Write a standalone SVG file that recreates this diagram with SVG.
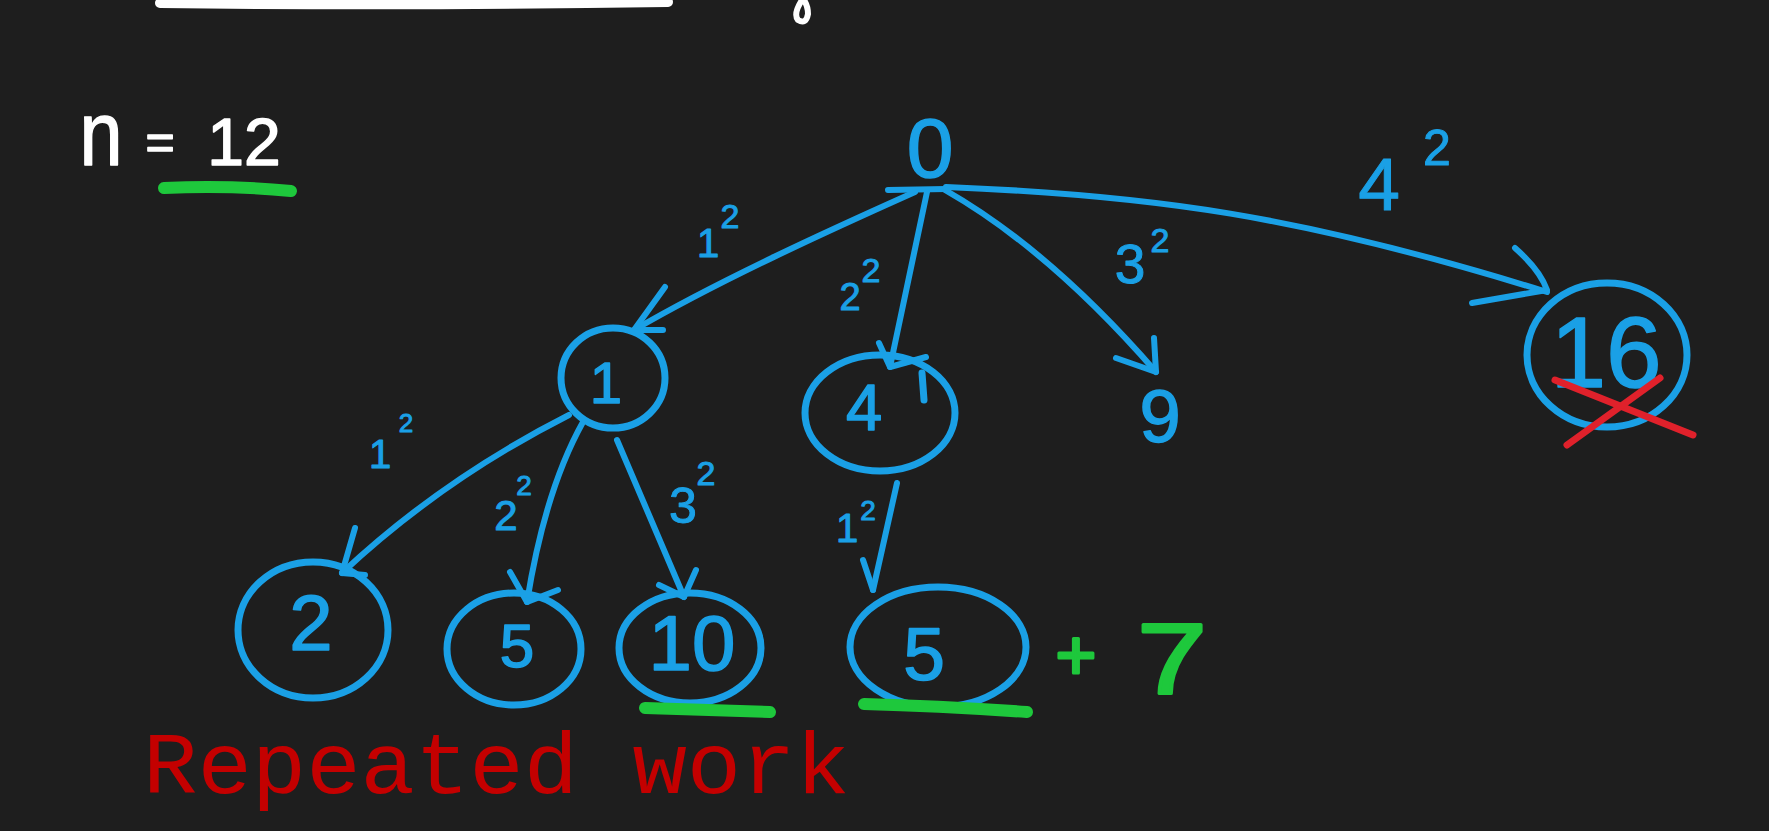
<svg xmlns="http://www.w3.org/2000/svg" width="1769" height="831" viewBox="0 0 1769 831">
<style>
.bg{fill:#1e1e1e}
.ring{fill:none;stroke:#1aa0e6;stroke-width:7;stroke-linecap:round;stroke-linejoin:round}
.edge{fill:none;stroke:#1aa0e6;stroke-width:6;stroke-linecap:round;stroke-linejoin:round}
.num{fill:#1aa0e6;stroke:#1aa0e6;stroke-width:1.5;stroke-linejoin:round;font-family:"Liberation Sans",Arial,sans-serif;text-anchor:middle}
.lbl{fill:#1aa0e6;stroke:#1aa0e6;stroke-width:1;stroke-linejoin:round;font-family:"Liberation Sans",Arial,sans-serif;text-anchor:middle}
.wht{fill:#ffffff;stroke:#ffffff;stroke-width:1.5;stroke-linejoin:round;font-family:"Liberation Sans",Arial,sans-serif;text-anchor:middle}
.grn{fill:#1ec83c;stroke:#1ec83c;stroke-width:3;stroke-linejoin:round;font-family:"Liberation Sans",Arial,sans-serif;text-anchor:middle}
.hl{fill:none;stroke:#1ec83c;stroke-width:12;stroke-linecap:round}
.cross{fill:none;stroke:#e0212b;stroke-width:7;stroke-linecap:round}
.note{fill:#c40000;font-family:"Liberation Mono","Courier New",monospace}
</style>
<rect class="bg" x="0" y="0" width="1769" height="831"/>

<g id="top-remnant">
<path d="M160 3 Q400 6 668 2" fill="none" stroke="#ffffff" stroke-width="10" stroke-linecap="round"/>
<path d="M802 0 Q793 14 798 20 Q806 25 808 14 Q808 6 804 0" fill="none" stroke="#ffffff" stroke-width="6" stroke-linecap="round"/>
</g>

<g id="n-equals">
<text class="wht" x="101" y="165" font-size="90" textLength="43" lengthAdjust="spacingAndGlyphs">n</text>
<text class="wht" x="160" y="159" font-size="50">=</text>
<text class="wht" x="244" y="165" font-size="66">12</text>
<path class="hl" d="M164 188 Q230 185 291 191"/>
</g>

<g id="connectors">
  <g id="e-0-1">
    <path class="edge" d="M888 190 L946 189"/>
    <path class="edge" d="M915 192 C830 230 720 280 634 330"/>
    <path class="edge" d="M665 287 L634 330 L663 330"/>
    <text class="lbl"><tspan x="708" y="257" font-size="40">1</tspan><tspan x="730" y="228" font-size="34">2</tspan></text>
  </g>
  <g id="e-0-4">
    <path class="edge" d="M927 192 L890 367"/>
    <path class="edge" d="M879 343 L890 367 L926 357"/>
    <text class="lbl"><tspan x="850" y="310" font-size="38">2</tspan><tspan x="871" y="282" font-size="34">2</tspan></text>
  </g>
  <g id="e-0-9">
    <path class="edge" d="M945 190 Q1050 250 1156 372"/>
    <path class="edge" d="M1154 338 L1156 372 L1116 358"/>
    <text class="lbl"><tspan x="1130" y="283" font-size="55">3</tspan><tspan x="1160" y="252" font-size="34">2</tspan></text>
  </g>
  <g id="e-0-16">
    <path class="edge" d="M946 187 C1150 195 1300 215 1547 292"/>
    <path class="edge" d="M1515 248 Q1540 270 1547 290 L1472 303"/>
    <text class="lbl"><tspan x="1379" y="210" font-size="75">4</tspan><tspan x="1437" y="165" font-size="50">2</tspan></text>
  </g>
  <g id="e-1-2">
    <path class="edge" d="M569 415 C500 450 420 500 342 573"/>
    <path class="edge" d="M355 528 L342 573 L365 575"/>
    <text class="lbl"><tspan x="380" y="468" font-size="40">1</tspan><tspan x="406" y="432" font-size="26">2</tspan></text>
  </g>
  <g id="e-1-5">
    <path class="edge" d="M583 422 Q545 490 527 602"/>
    <path class="edge" d="M510 572 L527 602 L558 590"/>
    <text class="lbl"><tspan x="506" y="530" font-size="42">2</tspan><tspan x="524" y="495" font-size="28">2</tspan></text>
  </g>
  <g id="e-1-10">
    <path class="edge" d="M617 440 L684 597"/>
    <path class="edge" d="M659 585 L684 597 L696 570"/>
    <text class="lbl"><tspan x="683" y="523" font-size="50">3</tspan><tspan x="706" y="485" font-size="34">2</tspan></text>
  </g>
  <g id="e-4-5">
    <path class="edge" d="M897 483 L873 590"/>
    <path class="edge" d="M863 560 L873 590"/>
    <text class="lbl"><tspan x="847" y="542" font-size="40">1</tspan><tspan x="868" y="520" font-size="28">2</tspan></text>
  </g>
</g>

<g id="node-0">
  <text class="num" x="930" y="177" font-size="84">0</text>
</g>
<g id="node-1">
  <ellipse class="ring" cx="613" cy="378" rx="52" ry="50"/>
  <text class="num" x="606" y="403" font-size="58">1</text>
</g>
<g id="node-4">
  <ellipse class="ring" cx="880" cy="413" rx="75" ry="58"/>
  <path class="ring" d="M922 373 L924 400"/>
  <text class="num" x="864" y="430" font-size="65">4</text>
</g>
<g id="node-9">
  <text class="num" x="1160" y="442" font-size="74">9</text>
</g>
<g id="node-16">
  <ellipse class="ring" cx="1607" cy="355" rx="80" ry="72"/>
  <text class="num" x="1606" y="387" font-size="100">16</text>
  <path class="cross" d="M1555 380 L1693 435"/>
  <path class="cross" d="M1660 378 L1567 445"/>
</g>
<g id="node-2">
  <ellipse class="ring" cx="313" cy="630" rx="75" ry="68"/>
  <text class="num" x="311" y="650" font-size="78">2</text>
</g>
<g id="node-5a">
  <ellipse class="ring" cx="514" cy="649" rx="67" ry="56"/>
  <text class="num" x="517" y="667" font-size="62">5</text>
</g>
<g id="node-10">
  <ellipse class="ring" cx="690" cy="648" rx="71" ry="55"/>
  <text class="num" x="692" y="670" font-size="78">10</text>
  <path class="hl" d="M645 708 L770 712"/>
</g>
<g id="node-5b">
  <ellipse class="ring" cx="938" cy="647" rx="88" ry="60"/>
  <text class="num" x="924" y="680" font-size="75">5</text>
  <path class="hl" d="M864 704 Q940 706 1027 712"/>
</g>
<g id="plus-7">
  <text class="grn" x="1076" y="679" font-size="70">+</text>
  <text class="grn" x="1172" y="694" font-size="100" textLength="70" lengthAdjust="spacingAndGlyphs">7</text>
</g>
<g id="note">
  <text class="note" x="143" y="793" font-size="88" textLength="707" lengthAdjust="spacingAndGlyphs">Repeated work</text>
</g>
</svg>
